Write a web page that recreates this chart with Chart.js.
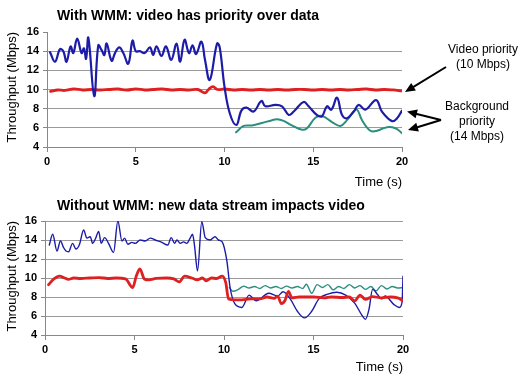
<!DOCTYPE html>
<html><head><meta charset="utf-8">
<script src="https://cdn.jsdelivr.net/npm/chart.js@4/dist/chart.umd.min.js"></script>
<style>
html,body{margin:0;padding:0;background:#fff;width:525px;height:382px;overflow:hidden;}
#wrap{position:relative;width:525px;height:382px;font-family:"Liberation Sans",Arial,sans-serif;color:#000;}
canvas{position:absolute;left:0;}
.title{position:absolute;left:57px;font-weight:bold;font-size:14px;white-space:nowrap;line-height:16px;}
.note{position:absolute;font-size:12px;line-height:15px;text-align:center;white-space:nowrap;}
</style></head>
<body><div id="wrap">
<canvas id="c1" width="525" height="190" style="top:0"></canvas>
<canvas id="c2" width="525" height="192" style="top:190px"></canvas>
<div class="title" style="top:7px">With WMM: video has priority over data</div>
<div class="title" style="top:197px">Without WMM: new data stream impacts video</div>
<div class="note" style="left:444px;top:42px;width:78px">Video priority<br>(10 Mbps)</div>
<div class="note" style="left:437px;top:99px;width:80px">Background<br>priority<br>(14 Mbps)</div>
</div>
<script>
// ---- Data: With WMM (top) ----
const wmmBgTime = [0.17,0.45,0.73,0.92,1.1,1.33,1.48,1.7,1.95,2.08,2.2,2.33,2.66,2.89,3.08,3.23,3.36,3.64,3.83,4.07,4.3,4.58,4.82,5.0,5.23,5.5,5.8,5.98,6.17,6.45,6.7,7.0,7.3,7.5,7.75,8.0,8.2,8.4,8.7,8.9,9.17,9.58,9.73,10.0,10.3,10.67,10.95,11.24,11.64,12.08,12.3,12.86,13.24,13.62,13.9,14.46,14.74,15.2,15.49,15.77,16.02,16.34,16.62,16.9,17.28,17.56,17.93,18.54,18.87,19.44,19.72,20.0];
const wmmBg     = [13.9,12.9,14.2,14.0,12.9,14.5,13.8,15.3,13.8,14.3,13.2,15.4,9.3,14.6,14.1,13.6,14.8,13.0,13.8,14.4,13.8,12.7,15.1,14.0,14.0,13.8,14.4,13.6,14.5,13.5,14.5,13.1,14.8,12.9,15.2,13.8,14.6,13.7,15.0,13.1,11.0,14.8,14.4,10.3,7.5,6.3,7.8,8.1,7.7,8.8,8.25,8.4,8.25,7.35,7.7,8.7,8.25,7.35,7.2,8.25,7.9,9.15,7.35,7.0,7.7,8.4,7.9,8.9,7.7,6.7,7.0,7.8];
const wmmVideoTime = [0.2,0.6,1.0,1.5,2.0,2.5,3.0,3.5,4.0,4.5,5.0,5.5,6.0,6.5,7.0,7.5,8.0,8.5,8.9,9.1,9.35,9.6,10.0,10.5,11.0,11.5,12.0,12.5,13.0,13.5,14.0,14.5,15.0,15.5,16.0,16.5,17.0,17.5,18.0,18.5,19.0,19.5,20.0];
const wmmVideo     = [9.8,9.95,9.9,10.05,9.95,10.0,9.95,10.0,10.05,9.95,10.05,9.95,10.0,10.05,9.95,10.0,9.95,10.0,9.65,10.0,10.3,10.0,10.05,9.95,10.0,9.95,10.0,9.95,10.0,9.95,10.0,10.0,9.95,10.0,9.95,10.0,9.95,10.0,10.05,9.95,10.0,9.95,9.85];
const wmmBg2Time = [10.65,11.08,11.55,12.11,12.68,12.96,13.33,13.8,14.37,14.65,15.12,15.5,16.06,16.53,16.9,17.28,17.47,17.75,18.22,18.6,19.16,19.63,20.0];
const wmmBg2     = [5.53,6.2,6.25,6.5,6.8,6.9,6.73,6.25,5.8,5.96,7.05,7.24,6.6,6.2,6.8,7.7,7.9,6.8,5.7,5.7,6.07,5.96,5.45];

// ---- Data: Without WMM (bottom) ----
const noBgTime = [0.24,0.43,0.67,0.86,1.04,1.17,1.32,1.54,1.73,1.92,2.16,2.34,2.53,2.66,2.81,3.0,3.14,3.33,3.55,3.83,4.07,4.3,4.45,4.63,4.85,5.04,5.32,5.6,5.88,6.16,6.53,6.86,7.05,7.24,7.37,7.55,7.74,7.92,8.11,8.24,8.35,8.52,8.76,8.95,9.23,9.5,9.69,9.9,10.16,10.34,10.6,11.0,11.4,11.8,12.5,13.0,13.3,13.7,14.1,14.5,14.9,15.3,15.8,16.3,16.8,17.3,17.7,17.9,18.1,18.3,18.6,18.8,19.0,19.5,19.8,19.95,20.0];
const noBg     = [13.47,14.6,12.84,13.9,13.2,12.84,12.77,13.65,13.05,13.5,15.05,14.2,14.35,13.65,14.1,14.9,13.65,14.25,13.65,12.7,16.0,13.9,14.2,13.55,13.75,13.65,14.0,13.9,14.2,14.0,13.75,13.47,14.25,13.65,14.0,13.65,13.8,13.65,14.2,14.6,13.47,10.74,15.93,14.25,14.0,14.35,14.0,13.8,11.8,9.0,7.3,6.9,8.2,7.6,8.4,8.1,8.55,7.8,6.5,5.8,6.5,7.8,8.3,8.5,8.2,7.35,6.1,5.65,6.7,8.8,8.2,7.8,8.1,7.2,6.9,7.5,10.2];
const noVideoTime = [0.2,0.5,0.8,1.1,1.3,1.6,2.0,2.5,3.0,3.5,4.0,4.5,4.9,5.1,5.3,5.55,5.8,6.2,6.8,7.2,7.5,7.8,8.2,8.5,8.8,9.0,9.3,9.6,9.9,10.1,10.25,10.6,11.0,11.5,12.0,12.4,12.8,13.0,13.2,13.4,13.6,13.8,14.2,15.0,15.6,16.0,16.6,17.0,17.3,17.6,17.9,18.3,18.8,19.3,19.7,20.0];
const noVideo     = [9.3,9.9,10.2,10.0,9.85,10.0,9.95,10.0,10.05,9.95,10.0,9.9,9.0,10.2,10.95,9.9,9.8,9.95,10.0,9.9,9.6,10.2,10.0,9.8,10.0,9.7,10.0,9.95,10.2,9.5,7.8,7.7,7.7,7.8,7.8,8.0,7.85,8.1,7.3,7.6,8.6,7.9,8.0,8.0,7.9,8.0,7.95,8.0,7.6,8.2,7.75,8.05,7.9,8.0,7.9,7.6];
const noBg2Time = [10.3,10.5,10.8,11.1,11.4,11.7,12.0,12.3,12.6,12.9,13.2,13.5,13.8,14.1,14.4,14.6,14.9,15.2,15.5,15.8,16.1,16.4,16.7,17.0,17.3,17.6,17.9,18.2,18.5,18.8,19.1,19.4,19.7,20.0];
const noBg2     = [9.0,8.6,8.8,9.15,8.95,9.1,8.9,9.2,8.95,9.1,8.9,9.15,8.95,9.1,8.9,9.35,8.4,9.3,9.0,9.3,8.75,9.1,8.9,9.3,8.95,9.2,8.8,9.1,8.65,9.2,8.85,9.1,8.95,9.0];

const xTicks = [0,5,10,15,20];
const yTicks = [4,6,8,10,12,14,16];

const BLUE = '#1c1ca8', RED = '#de2020', TEAL = '#2a8f7c';
const FONT = '"Liberation Sans", Arial, sans-serif';

function pts(t, v){ return t.map((x,i)=>({x:x, y:v[i]})); }
function ds(t, v, color, width, smooth){
  const d = {data: pts(t,v), borderColor: color, borderWidth: width, pointRadius: 0, fill: false,
             borderJoinStyle: 'round', borderCapStyle: 'round'};
  if (smooth) { d.tension = 0.4; } else { d.cubicInterpolationMode = 'monotone'; }
  return d;
}

const arrowPlugin = {
  id: 'arrows',
  afterDraw(chart){
    const {ctx} = chart;
    const xs = chart.scales.x, ys = chart.scales.y;
    const xe = xs.getPixelForValue(20) + 3;
    function arrow(x0,y0,x1,y1){
      const a = Math.atan2(y1-y0, x1-x0), L = 10, W = 4.5;
      ctx.save();
      ctx.strokeStyle = '#000'; ctx.fillStyle = '#000'; ctx.lineWidth = 2;
      ctx.beginPath(); ctx.moveTo(x0,y0);
      ctx.lineTo(x1 - Math.cos(a)*L*0.8, y1 - Math.sin(a)*L*0.8); ctx.stroke();
      ctx.beginPath(); ctx.moveTo(x1,y1);
      ctx.lineTo(x1 - Math.cos(a)*L + Math.sin(a)*W, y1 - Math.sin(a)*L - Math.cos(a)*W);
      ctx.lineTo(x1 - Math.cos(a)*L - Math.sin(a)*W, y1 - Math.sin(a)*L + Math.cos(a)*W);
      ctx.closePath(); ctx.fill();
      ctx.restore();
    }
    arrow(446, 67, xe, ys.getPixelForValue(wmmVideo[wmmVideo.length-1]) + 1);
    arrow(441, 120, xe + 2, ys.getPixelForValue(wmmBg[wmmBg.length-1]) + 1);
    arrow(441, 120, xe + 3, ys.getPixelForValue(wmmBg2[wmmBg2.length-1]) - 3);
  }
};

function makeChart(id, datasets, o){
  return new Chart(document.getElementById(id), {
    type: 'line',
    data: {datasets},
    options: {
      responsive: false, animation: false,
      layout: {padding: {left: 0, right: o.right, top: o.top, bottom: 0}},
      plugins: {legend: {display: false}, title: {display: false}, tooltip: {enabled: false}},
      scales: {
        x: {
          type: 'linear', min: 0, max: 20,
          afterBuildTicks(s){ s.ticks = xTicks.map(v=>({value:v})); },
          ticks: {font: {family: FONT, size: 11, weight: 'bold'}, color: '#000', padding: 3, maxRotation: 0},
          grid: {drawOnChartArea: false, tickLength: 5, color: '#888'},
          border: {color: '#888', width: 1},
          title: {display: true, text: 'Time (s)', align: 'end', color: '#000',
                  font: {family: FONT, size: 13}, padding: {top: 2, bottom: o.xtb}},
          afterFit(s){ s.height = o.xh; }
        },
        y: {
          type: 'linear', min: 4, max: 16,
          afterBuildTicks(s){ s.ticks = yTicks.map(v=>({value:v})); },
          ticks: {font: {family: FONT, size: 11, weight: 'bold'}, color: '#000', padding: 4},
          grid: {color: (c)=> (c.tick && c.tick.value === 16 && !o.top16) ? 'rgba(0,0,0,0)' : '#9a9a9a',
                 tickColor: '#888', tickLength: 4, lineWidth: 1},
          border: {color: '#888', width: 1},
          title: {display: true, text: 'Throughput (Mbps)', align: 'end', color: '#000',
                  font: {family: FONT, size: 13}, padding: {top: 5, bottom: 0}},
          afterFit(s){ s.width = o.yw; }
        }
      }
    },
    plugins: o.plugins || []
  });
}

makeChart('c1', [
  ds(wmmBgTime, wmmBg, BLUE, 2.2, true),
  ds(wmmVideoTime, wmmVideo, RED, 2.8, true),
  ds(wmmBg2Time, wmmBg2, TEAL, 2, true)
], {right: 123, top: 32, xh: 43, yw: 47, xtb: 0, top16: false, plugins: [arrowPlugin]});

makeChart('c2', [
  ds(noVideoTime, noVideo, RED, 2.8, false),
  ds(noBgTime, noBg, BLUE, 1.4, false),
  ds(noBg2Time, noBg2, TEAL, 1.4, false)
], {right: 122, top: 31, xh: 47, yw: 45, xtb: 7, top16: true});
</script>
</body></html>
